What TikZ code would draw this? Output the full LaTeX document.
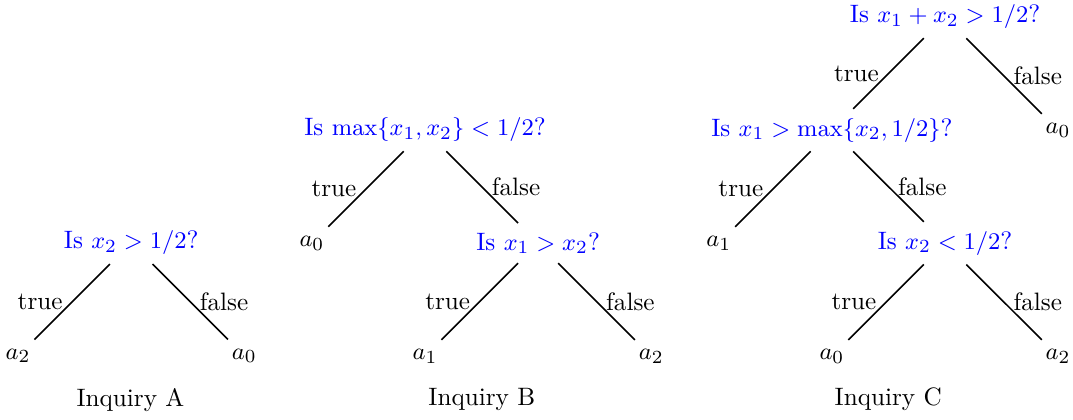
\documentclass[tikz,border=0pt]{standalone}
\usetikzlibrary{calc}
\begin{document}
\begin{tikzpicture}[font=\fontsize{9.5}{11.5}\selectfont,
    ask/.style={text=blue},branch/.style={semithick},
    yes/.style={left},no/.style={right}]
  \useasboundingbox (0,0) rectangle (14.23,-5.557);
  % inquiry A
  \node[ask] (qa) at (1.74,-3.22) {Is $x_2>1/2$?};
  \node (qa1) at ($(qa)+(-1.5,-1.5)$) {$a_2$};
  \node (qa2) at ($(qa)+(1.5,-1.5)$) {$a_0$};
  \draw[branch] (qa) -- node[yes] {true} (qa1);
  \draw[branch] (qa) -- node[no] {false} (qa2);
  \node (capa) at (1.73,-5.3) {Inquiry A};
  % inquiry B
  \node[ask] (qb) at (5.637,-1.724) {Is $\max\{x_1,x_2\}<1/2$?};
  \node (qb1) at ($(qb)+(-1.5,-1.5)$) {$a_0$};
  \node[ask] (qbb) at ($(qb)+(1.5,-1.5)$) {Is $x_1>x_2$?};
  \node (qbb1) at ($(qbb)+(-1.5,-1.5)$) {$a_1$};
  \node (qbb2) at ($(qbb)+(1.5,-1.5)$) {$a_2$};
  \draw[branch] (qb) -- node[yes] {true} (qb1);
  \draw[branch] (qb) -- node[no] {false} (qbb);
  \draw[branch] (qbb) -- node[yes] {true} (qbb1);
  \draw[branch] (qbb) -- node[no] {false} (qbb2);
  \node (capb) at (6.39,-5.3) {Inquiry B};
  % inquiry C
  \node[ask] (qc) at (12.533,-0.225) {Is $x_1+x_2>1/2$?};
  \node[ask] (qcc) at ($(qc)+(-1.5,-1.5)$) {Is $x_1>\max\{x_2,1/2\}$?};
  \node (qc2) at ($(qc)+(1.5,-1.5)$) {$a_0$};
  \node (qcc1) at ($(qcc)+(-1.5,-1.5)$) {$a_1$};
  \node[ask] (qccc) at ($(qcc)+(1.5,-1.5)$) {Is $x_2<1/2$?};
  \node (qccc1) at ($(qccc)+(-1.5,-1.5)$) {$a_0$};
  \node (qccc2) at ($(qccc)+(1.5,-1.5)$) {$a_2$};
  \draw[branch] (qc) -- node[yes] {true} (qcc);
  \draw[branch] (qc) -- node[no] {false} (qc2);
  \draw[branch] (qcc) -- node[yes] {true} (qcc1);
  \draw[branch] (qcc) -- node[no] {false} (qccc);
  \draw[branch] (qccc) -- node[yes] {true} (qccc1);
  \draw[branch] (qccc) -- node[no] {false} (qccc2);
  \node (capc) at (11.78,-5.3) {Inquiry C};
\end{tikzpicture}
\end{document}
